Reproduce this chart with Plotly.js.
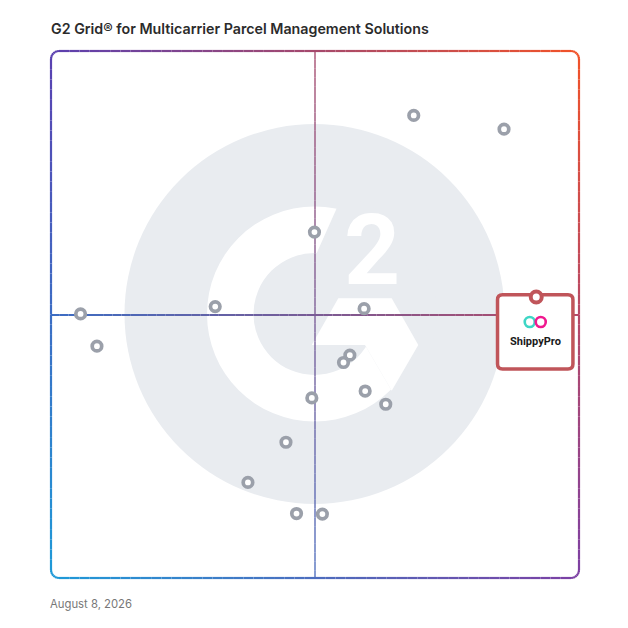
<!DOCTYPE html>
<html><head><meta charset="utf-8">
<script src="https://cdn.plot.ly/plotly-3.0.1.min.js"></script>
<style>html,body{margin:0;padding:0;background:#fff}</style>
</head><body>
<div id="chart" style="width:628px;height:628px"></div>
<script>
// ---- data ----
var satisfaction   = [68.7, 85.8, 49.9, 31.1, 59.3, 5.6, 8.7, 56.6, 55.4, 59.5, 49.4, 63.4, 44.5, 37.3, 46.5, 51.4];
var marketPresence = [87.8, 85.2, 65.7, 51.6, 51.2, 50.2, 44.1, 42.4, 41.0, 35.6, 34.3, 33.1, 25.9, 18.3, 12.4, 12.3];
var featuredName = ['ShippyPro'];
var featuredSatisfaction = [91.9];
var featuredPresence = [53.4];
var axisRange = [0, 100];
var quadrantSplit = 50;
var chartTitle = 'G2 Grid® for Multicarrier Parcel Management Solutions';
var chartDate = 'August 8, 2026';

// ---- helpers (pixel -> paper for decoration) ----
var PL = 51, PT = 51, PS = 528;
function px(x){ return (x - PL) / PS; }
function py(y){ return (PT + PS - y) / PS; }
var TL=[90,64,176], TR=[242,82,40], BL=[30,154,216], BR=[124,64,164];
function mix(a,b,t){ return [a[0]+(b[0]-a[0])*t, a[1]+(b[1]-a[1])*t, a[2]+(b[2]-a[2])*t]; }
function col(u,v){ var c = mix(mix(TL,TR,u), mix(BL,BR,u), v); return 'rgb('+Math.round(c[0])+','+Math.round(c[1])+','+Math.round(c[2])+')'; }

var shapes = [];
var GRAY = '#e9ecf0';
// watermark logo
var cx = 314.5, cy = 314;
function circ(r, fill){ shapes.push({type:'circle', xref:'paper', yref:'paper', layer:'below',
  x0:px(cx-r), x1:px(cx+r), y0:py(cy+r), y1:py(cy-r), fillcolor:fill, line:{width:0}}); }
circ(190, GRAY);
circ(107.5, '#ffffff');
circ(61, GRAY);
function pathFrom(list){ return list.map(function(p,i){ return (i?'L':'M')+px(p[0]).toFixed(5)+','+py(p[1]).toFixed(5); }).join(' ')+' Z'; }
var wedge = [[314.5,258],[341.3,197.9]];
var a0 = Math.atan2(197.9-cy, 341.3-cx), a1 = Math.atan2(401.6-cy, 398.1-cx);
for (var i=1;i<20;i++){ var a=a0+(a1-a0)*i/20; wedge.push([cx+122*Math.cos(a), cy+122*Math.sin(a)]); }
wedge.push([398.1,401.6],[365,345],[347.5,315],[314.5,314]);
shapes.push({type:'path', xref:'paper', yref:'paper', layer:'below', path:pathFrom(wedge), fillcolor:GRAY, line:{width:0}});
var chevron = [[338.3,298.3],[391.7,298.3],[418.3,345],[391.7,390.7],[365,345],[311.7,345]];
shapes.push({type:'path', xref:'paper', yref:'paper', layer:'below', path:pathFrom(chevron), fillcolor:'#ffffff', line:{width:0}});

// quadrant lines (gradient)
var N = 60;
for (var i=0;i<N;i++){
  var f0=i/N, f1=(i+1)/N, fm=(i+0.5)/N;
  shapes.push({type:'line', layer:'below', xref:'x', yref:'y',
    x0:axisRange[0]+(axisRange[1]-axisRange[0])*f0, x1:axisRange[0]+(axisRange[1]-axisRange[0])*f1,
    y0:quadrantSplit, y1:quadrantSplit, line:{color:col(fm,0.5), width:2}});
  shapes.push({type:'line', layer:'below', xref:'x', yref:'y', opacity:0.75,
    y0:axisRange[1]-(axisRange[1]-axisRange[0])*f0, y1:axisRange[1]-(axisRange[1]-axisRange[0])*f1,
    x0:quadrantSplit, x1:quadrantSplit, line:{color:col(0.5,fm), width:1.8}});
}

// gradient rounded frame
var L=51, R=579, T=51, B=578, rad=8, pts=[];
function addLine(x0,y0,x1,y1,n){ for(var i=0;i<n;i++) pts.push([x0+(x1-x0)*i/n, y0+(y1-y0)*i/n]); }
function addArc(ax,ay,b0,b1,n){ for(var i=0;i<n;i++){ var a=b0+(b1-b0)*i/n; pts.push([ax+rad*Math.cos(a), ay+rad*Math.sin(a)]); } }
addLine(L+rad,T,R-rad,T,50); addArc(R-rad,T+rad,-Math.PI/2,0,6);
addLine(R,T+rad,R,B-rad,50); addArc(R-rad,B-rad,0,Math.PI/2,6);
addLine(R-rad,B,L+rad,B,50); addArc(L+rad,B-rad,Math.PI/2,Math.PI,6);
addLine(L,B-rad,L,T+rad,50); addArc(L+rad,T+rad,Math.PI,1.5*Math.PI,6);
pts.push(pts[0]);
for (var i=0;i<pts.length-1;i++){
  var p=pts[i], q=pts[i+1];
  var u=((p[0]+q[0])/2-L)/(R-L), v=((p[1]+q[1])/2-T)/(B-T);
  shapes.push({type:'line', xref:'paper', yref:'paper', layer:'below',
    x0:px(p[0]), y0:py(p[1]), x1:px(q[0]), y1:py(q[1]), line:{color:col(u,v), width:2.2}});
}

// featured product card (pixel-sized, anchored to its point)
var bl=-38.7, br=36.7, bt=2.3, bb=-72, rr=5;
var card = 'M'+(bl+rr)+','+bt+' L'+(br-rr)+','+bt+' Q'+br+','+bt+' '+br+','+(bt-rr)+
  ' L'+br+','+(bb+rr)+' Q'+br+','+bb+' '+(br-rr)+','+bb+' L'+(bl+rr)+','+bb+
  ' Q'+bl+','+bb+' '+bl+','+(bb+rr)+' L'+bl+','+(bt-rr)+' Q'+bl+','+bt+' '+(bl+rr)+','+bt+' Z';
shapes.push({type:'path', layer:'below', xref:'x', yref:'y', xsizemode:'pixel', ysizemode:'pixel',
  xanchor:featuredSatisfaction[0], yanchor:featuredPresence[0], path:card,
  fillcolor:'#ffffff', line:{color:'#c0555a', width:3.5}});
function ring(dx, color){ shapes.push({type:'circle', layer:'below', xref:'x', yref:'y', xsizemode:'pixel', ysizemode:'pixel',
  xanchor:featuredSatisfaction[0], yanchor:featuredPresence[0], x0:dx-5, x1:dx+5, y0:-25-5, y1:-25+5,
  fillcolor:'rgba(0,0,0,0)', line:{color:color, width:2.6}}); }
ring(-6.5, '#3ed6c5');
ring(4.5, '#f0188f');

var traces = [
  {type:'scatter', mode:'markers', x:satisfaction, y:marketPresence, hoverinfo:'skip', showlegend:false,
   marker:{size:9.5, color:'#ffffff', line:{color:'#9ba0aa', width:3.7}}},
  {type:'scatter', mode:'markers', x:featuredSatisfaction, y:featuredPresence, text:featuredName, showlegend:false,
   marker:{size:11, color:'#ffffff', line:{color:'#c0555a', width:4}}}
];

var annotations = [
  {xref:'paper', yref:'paper', x:px(371.7), y:py(250), xanchor:'center', yanchor:'middle', showarrow:false,
   text:'2', font:{family:'Roboto', size:98, color:'#ffffff', weight:700}},
  {xref:'x', yref:'y', x:featuredSatisfaction[0], y:featuredPresence[0], xshift:-1, yshift:-44.5,
   xanchor:'center', yanchor:'middle', showarrow:false, text:featuredName[0],
   font:{family:'Roboto', size:11, color:'#1a1a1a', weight:700}},
  {xref:'paper', yref:'paper', x:0, y:py(604), xshift:-3, xanchor:'left', yanchor:'middle', showarrow:false,
   text:chartDate, font:{family:'Inter', size:11.3, color:'#777777'}}
];

var layout = {
  width:628, height:628, margin:{l:51, r:49, t:51, b:49},
  paper_bgcolor:'#ffffff', plot_bgcolor:'rgba(0,0,0,0)',
  title:{text:chartTitle, xref:'container', yref:'container', x:51/628, xanchor:'left', y:1-29/628, yanchor:'middle',
    font:{family:'Inter', size:14.25, color:'#2b2b2b', weight:600}},
  xaxis:{range:axisRange, showgrid:false, zeroline:false, showticklabels:false, showline:false, ticks:'', fixedrange:true},
  yaxis:{range:axisRange, showgrid:false, zeroline:false, showticklabels:false, showline:false, ticks:'', fixedrange:true},
  shapes:shapes, annotations:annotations, hovermode:false
};
Plotly.newPlot('chart', traces, layout, {displayModeBar:false, staticPlot:true});
</script>
</body></html>
